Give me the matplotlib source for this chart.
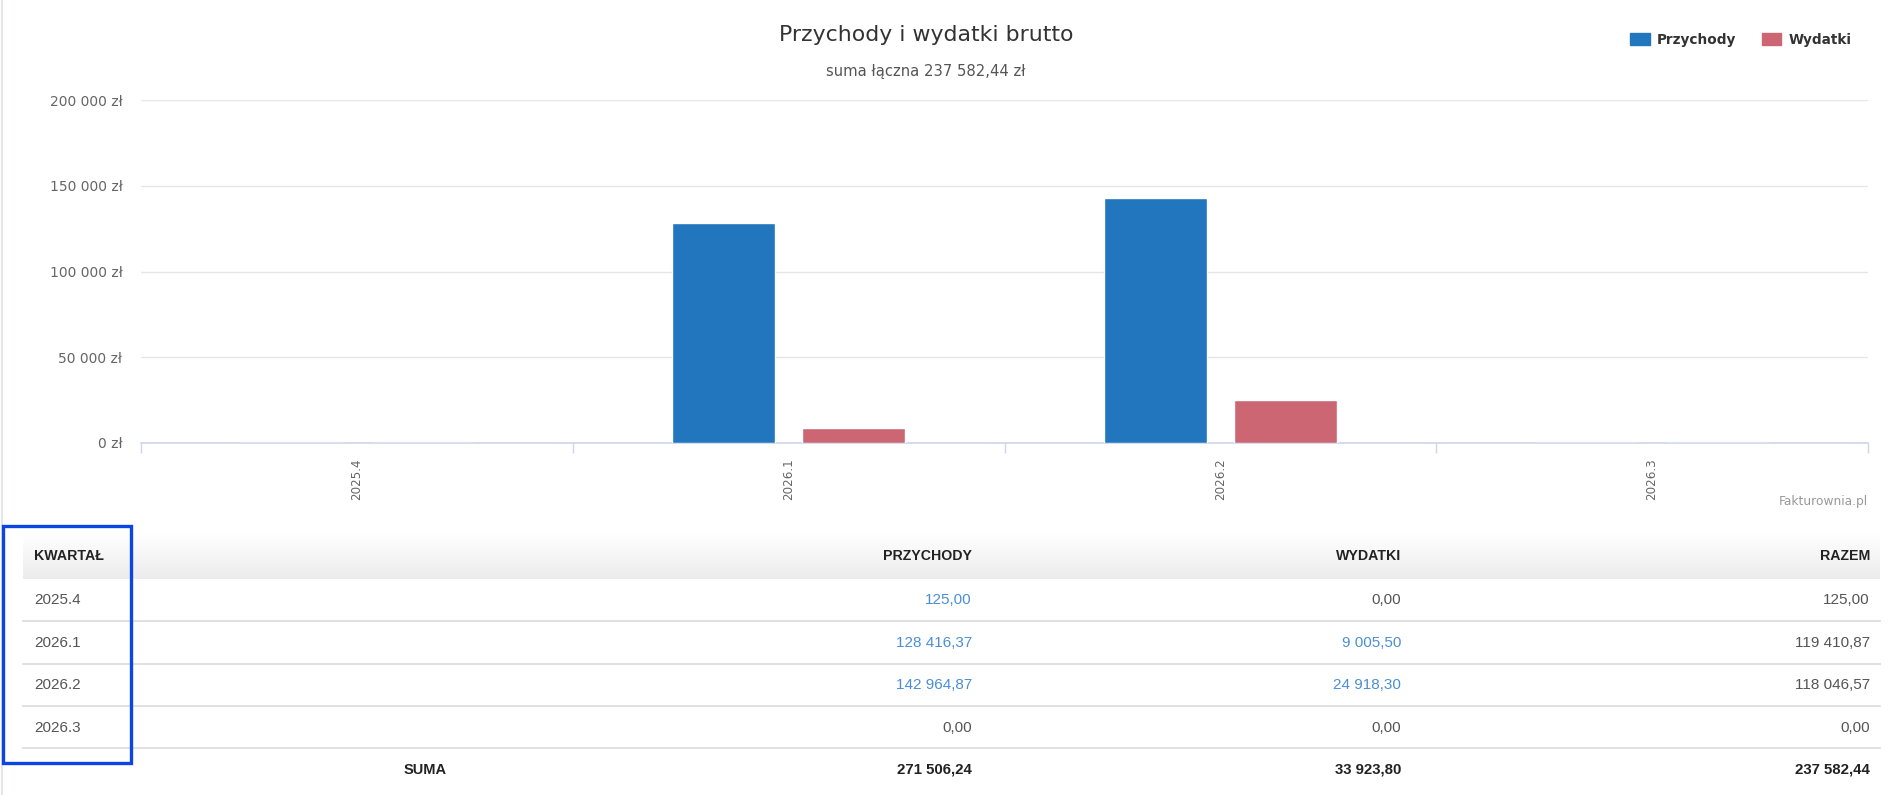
import numpy as np
import matplotlib
matplotlib.use("Agg")
import matplotlib.pyplot as plt
from matplotlib.patches import Patch, Rectangle
from matplotlib.ticker import FuncFormatter

# ---- data ----
quarters = ["2025.4", "2026.1", "2026.2", "2026.3"]
przychody = [125.00, 128416.37, 142964.87, 0.00]
wydatki = [0.00, 9005.50, 24918.30, 0.00]
series_names = ["Przychody", "Wydatki"]
col_headers = ["KWARTAŁ", "PRZYCHODY", "WYDATKI", "RAZEM"]
y_ticks = [0, 50000, 100000, 150000, 200000]
title = "Przychody i wydatki brutto"
credit = "Fakturownia.pl"

BLUE = "#2176bd"
RED = "#cc6673"
W, H = 1902, 795


def pl(v, dec=2):
    s = f"{v:,.{dec}f}"
    return s.replace(",", " ").replace(".", ",")


razem = [p - w for p, w in zip(przychody, wydatki)]
sum_p, sum_w, sum_r = sum(przychody), sum(wydatki), sum(razem)

fig = plt.figure(figsize=(W / 100, H / 100), dpi=100)
fig.patch.set_facecolor("white")

# ---- chart ----
left, right, top, bottom = 141, 1868, 100, 443
ax = fig.add_axes([left / W, 1 - bottom / H, (right - left) / W, (bottom - top) / H])
ax.set_zorder(2)
ax.patch.set_alpha(0)
x = np.arange(len(quarters))
bw = 0.238
off = 0.151
ax.bar(x - off, przychody, bw, color=BLUE, edgecolor="white", linewidth=1, zorder=3)
ax.bar(x + off, wydatki, bw, color=RED, edgecolor="white", linewidth=1, zorder=3)
ax.set_xlim(-0.5, len(quarters) - 0.5)
ax.set_ylim(0, 200000)
ax.set_yticks(y_ticks)
ax.yaxis.set_major_formatter(FuncFormatter(lambda v, p: f"{pl(v, 0)} zł"))
ax.tick_params(axis="y", length=0, pad=13.5, labelsize=10, labelcolor="#666666")
ax.grid(axis="y", color="#e6e6e6", linewidth=1, zorder=0)
ax.set_axisbelow(True)
for s in ["top", "right", "left"]:
    ax.spines[s].set_visible(False)
ax.spines["bottom"].set_color("#ccd6eb")
ax.spines["bottom"].set_linewidth(1.2)
ax.set_xticks(x)
ax.set_xticklabels(quarters, rotation=90, va="top", ha="center")
ax.tick_params(axis="x", which="major", length=0, pad=11, labelsize=8.6, labelcolor="#666666")
ax.set_xticks(np.arange(len(quarters) + 1) - 0.5, minor=True)
ax.tick_params(axis="x", which="minor", length=7.5, color="#ccd6eb", width=1)

fig.text(926 / W, 1 - 41 / H, title, ha="center", va="baseline", fontsize=15.8, color="#333333")
fig.text(926 / W, 1 - 76 / H, f"suma łączna {pl(sum_r)} zł", ha="center", va="baseline",
         fontsize=10.6, color="#555555")
fig.text(1868 / W, 1 - 502 / H, credit, ha="right", va="center", fontsize=8.8, color="#999999")

handles = [Patch(facecolor=BLUE, edgecolor=BLUE), Patch(facecolor=RED, edgecolor=RED)]
fig.legend(handles, series_names, loc="center right", bbox_to_anchor=(1858 / W, 1 - 40 / H),
           ncol=2, frameon=False, borderpad=0, handlelength=1.45, handleheight=1.0,
           handletextpad=0.5, columnspacing=1.9,
           prop={"weight": "bold", "size": 9.8}, labelcolor="#333333")

# ---- overlay (table etc.) in pixel coordinates ----
ov = fig.add_axes([0, 0, 1, 1])
ov.set_zorder(1)
ov.axis("off")

# page border on the left
ov.plot([2, 2], [0, H], color="#dde1e8", lw=1.2)

# header gradient
grad = np.linspace(1.0, 0.925, 50).reshape(-1, 1)
grad_img = np.dstack([grad, grad, grad])
ov.imshow(grad_img, extent=[23, 1880, 579, 533], aspect="auto", interpolation="bilinear", zorder=1)
ov.set_xlim(0, W)
ov.set_ylim(H, 0)

tf = "Liberation Sans"
hx = [34, 972, 1401, 1870]
ov.text(hx[0], 556, col_headers[0], ha="left", va="center", fontsize=10.2, fontweight="bold",
        color="#222222", family=tf, zorder=3)
for i in range(1, 4):
    ov.text(hx[i], 556, col_headers[i], ha="right", va="center", fontsize=10.2,
            fontweight="bold", color="#222222", family=tf, zorder=3)

row_y = [600, 643, 685, 728]
sep_y = [621, 664, 706, 748]
LINK = "#4a8fd6"
GREY = "#555555"
for i, q in enumerate(quarters):
    y = row_y[i]
    ov.text(hx[0], y, q, ha="left", va="center", fontsize=11, color=GREY, family=tf, zorder=3)
    ov.text(hx[1], y, pl(przychody[i]), ha="right", va="center", fontsize=11,
            color=LINK if przychody[i] != 0 else GREY, family=tf, zorder=3)
    ov.text(hx[2], y, pl(wydatki[i]), ha="right", va="center", fontsize=11,
            color=LINK if wydatki[i] != 0 else GREY, family=tf, zorder=3)
    ov.text(hx[3], y, pl(razem[i]), ha="right", va="center", fontsize=11,
            color=GREY, family=tf, zorder=3)
for y in sep_y:
    ov.plot([23, 1880], [y, y], color="#dddddd", lw=1.3, zorder=2)

ov.text(425, 770, "SUMA", ha="center", va="center", fontsize=10.5, fontweight="bold",
        color="#222222", family=tf, zorder=3)
for xx, v in zip(hx[1:], [sum_p, sum_w, sum_r]):
    ov.text(xx, 770, pl(v), ha="right", va="center", fontsize=10.8, fontweight="bold",
            color="#222222", family=tf, zorder=3)

# highlight box
ov.add_patch(Rectangle((2.5, 526), 128, 237, fill=False, edgecolor="#0b45e6", lw=2.4, zorder=4))

fig.savefig("out.png", dpi=100, facecolor="white")
